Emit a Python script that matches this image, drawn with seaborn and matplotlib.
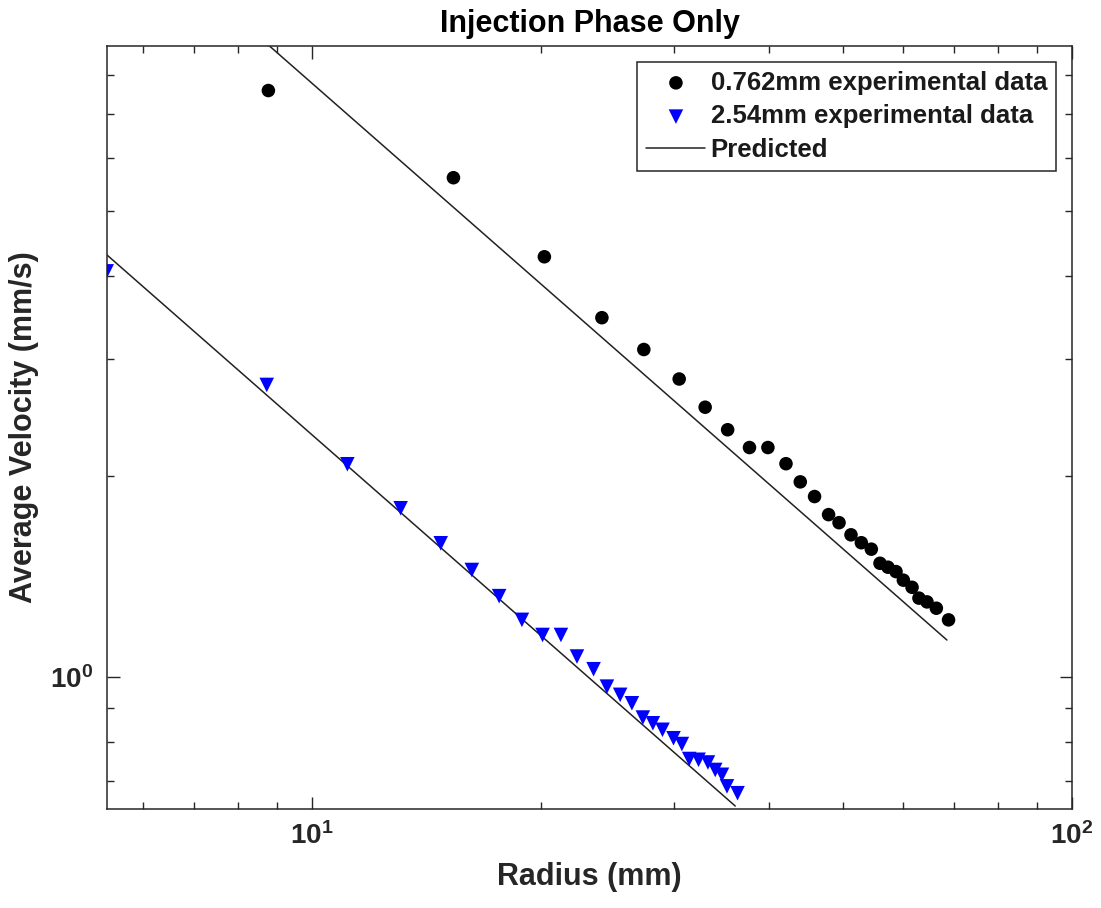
import numpy as np
import pandas as pd
import matplotlib
matplotlib.use("Agg")
import matplotlib.pyplot as plt
import matplotlib.ticker as mticker
import seaborn as sns

# ---- data ----
r_small = [8.77, 15.36, 20.23, 24.08, 27.34, 30.43, 32.92, 35.24, 37.65, 39.81,
           42.05, 43.91, 45.85, 47.84, 49.38, 51.2, 52.83, 54.45, 55.9, 57.27,
           58.68, 60.0, 61.6, 62.9, 64.45, 66.3, 68.8]
v_small = [7.58, 5.61, 4.27, 3.46, 3.10, 2.80, 2.54, 2.35, 2.21, 2.21,
           2.09, 1.963, 1.866, 1.753, 1.705, 1.635, 1.591, 1.556, 1.482, 1.462,
           1.440, 1.398, 1.364, 1.314, 1.297, 1.269, 1.219]

r_large = [5.375, 8.727, 11.14, 13.09, 14.78, 16.24, 17.64, 18.90, 20.12, 21.27,
           22.33, 23.48, 24.45, 25.45, 26.37, 27.26, 28.10, 28.93, 29.91, 30.68,
           31.37, 32.27, 33.20, 33.94, 34.64, 35.17, 36.31]
v_large = [4.06, 2.743, 2.086, 1.792, 1.588, 1.448, 1.323, 1.219, 1.157, 1.157,
           1.074, 1.028, 0.968, 0.941, 0.914, 0.870, 0.853, 0.834, 0.810, 0.794,
           0.754, 0.752, 0.745, 0.726, 0.714, 0.686, 0.670]

pred_small_r = [8.77, 68.46]
pred_small_v = [8.87, 1.137]
pred_large_r = [5.375, 36.06]
pred_large_v = [4.30, 0.641]

labels = ["0.762mm experimental data", "2.54mm experimental data", "Predicted"]

# ---- style ----
sns.set_style("ticks")
plt.rcParams["font.family"] = ["Liberation Sans", "DejaVu Sans"]
plt.rcParams["font.weight"] = "bold"
plt.rcParams["axes.labelweight"] = "bold"
plt.rcParams["axes.titleweight"] = "bold"
plt.rcParams["mathtext.fontset"] = "custom"
plt.rcParams["mathtext.rm"] = "Liberation Sans:bold"
plt.rcParams["mathtext.bf"] = "Liberation Sans:bold"
plt.rcParams["mathtext.it"] = "Liberation Sans:bold"

fig = plt.figure(figsize=(11.01, 9.08), dpi=100)
ax = fig.add_axes([0.0972, 0.1093, 0.9737 - 0.0972, 0.9497 - 0.1093])

df_s = pd.DataFrame({"r": r_small, "v": v_small})
df_l = pd.DataFrame({"r": r_large, "v": v_large})
df_ps = pd.DataFrame({"r": pred_small_r, "v": pred_small_v})
df_pl = pd.DataFrame({"r": pred_large_r, "v": pred_large_v})

sns.scatterplot(data=df_s, x="r", y="v", ax=ax, color="black", marker="o",
                s=95, edgecolor="none", label=labels[0], zorder=3)
sns.scatterplot(data=df_l, x="r", y="v", ax=ax, color="#0000ff", marker="v",
                s=110, edgecolor="none", label=labels[1], zorder=3)
sns.lineplot(data=df_ps, x="r", y="v", ax=ax, color="#222222", lw=1.1,
             label=labels[2], zorder=2)
sns.lineplot(data=df_pl, x="r", y="v", ax=ax, color="#222222", lw=1.1,
             zorder=2)

ax.set_xscale("log")
ax.set_yscale("log")
ax.set_xlim(5.38, 100)
ax.set_ylim(0.635, 8.85)

ax.xaxis.set_major_locator(mticker.LogLocator(base=10, numticks=10))
ax.yaxis.set_major_locator(mticker.LogLocator(base=10, numticks=10))
ax.xaxis.set_minor_locator(mticker.LogLocator(base=10, subs=np.arange(2, 10), numticks=20))
ax.yaxis.set_minor_locator(mticker.LogLocator(base=10, subs=np.arange(2, 10), numticks=20))
fmt = mticker.FuncFormatter(lambda val, pos: r"$\mathbf{10^{%d}}$" % int(round(np.log10(val))))
ax.xaxis.set_major_formatter(fmt)
ax.yaxis.set_major_formatter(fmt)
ax.xaxis.set_minor_formatter(mticker.NullFormatter())
ax.yaxis.set_minor_formatter(mticker.NullFormatter())

ax.tick_params(which="both", direction="in", top=True, right=True,
               color="#262626", width=1.0)
ax.tick_params(which="major", length=9, labelsize=20, pad=10, labelcolor="#262626")
ax.tick_params(which="minor", length=5)
for sp in ax.spines.values():
    sp.set_visible(True)
    sp.set_color("#262626")
    sp.set_linewidth(1.1)

ax.set_xlabel("Radius (mm)", fontsize=22, color="#262626", labelpad=8)
ax.set_ylabel("Average Velocity (mm/s)", fontsize=22, color="#262626", labelpad=8)
ax.set_title("Injection Phase Only", fontsize=22, color="black", pad=10)

leg = ax.legend(loc="upper right", fontsize=18.5, frameon=True, fancybox=False,
                edgecolor="#262626", framealpha=1, borderaxespad=0.62,
                borderpad=0.35, labelspacing=0.38, handlelength=2.3,
                handletextpad=0.2, markerscale=1.0)
leg.get_frame().set_linewidth(1.1)
for t in leg.get_texts():
    t.set_color("#1a1a1a")

fig.savefig("out.png", dpi=100)
